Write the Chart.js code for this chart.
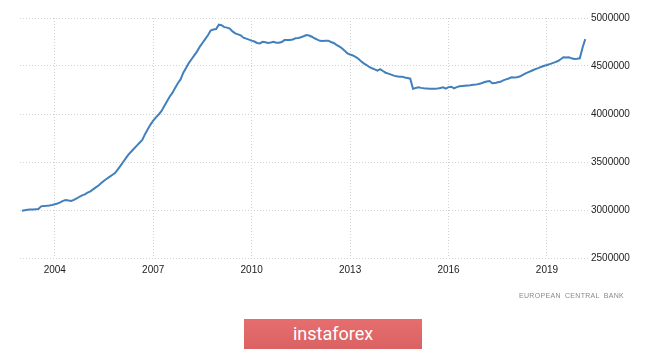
<!DOCTYPE html>
<html>
<head>
<meta charset="utf-8">
<script src="https://cdn.jsdelivr.net/npm/chart.js@4/dist/chart.umd.min.js"></script>
<style>
  html, body { margin: 0; padding: 0; background: #ffffff; }
  #wrap { position: relative; width: 665px; height: 350px; overflow: hidden; }
  #c { position: absolute; left: 0; top: 0; }
  #source {
    position: absolute; right: 41px; top: 292px;
    font-family: "Liberation Sans", Arial, sans-serif; font-size: 7px;
    color: #8a8a8a; letter-spacing: 0.3px; word-spacing: 2px; white-space: nowrap;
  }
  #wm {
    position: absolute; left: 244px; top: 319px; width: 178px; height: 30px;
    background: linear-gradient(#e66e6e, #db6262);
    color: #ffffff; font-family: Roboto, "Open Sans", sans-serif; font-size: 18px;
    text-align: center; line-height: 29px;
  }
</style>
</head>
<body>
<div id="wrap">
  <canvas id="c" width="665" height="350"></canvas>
  <div id="source">EUROPEAN CENTRAL BANK</div>
  <div id="wm">instaforex</div>
</div>
<script>
// Monthly series starting January 2003 (values in thousands)
const startYear = 2003;
const valuesThousands = [
  // 2003
  2993, 2998, 3002, 3005, 3004, 3007, 3010, 3038, 3042, 3044, 3047, 3052,
  // 2004
  3060, 3068, 3080, 3095, 3104, 3100, 3094, 3105, 3120, 3138, 3152, 3163,
  // 2005
  3180, 3195, 3215, 3235, 3255, 3280, 3305, 3325, 3345, 3365, 3385, 3420,
  // 2006
  3460, 3500, 3540, 3580, 3610, 3640, 3670, 3700, 3730, 3790, 3840, 3890,
  // 2007
  3930, 3965, 3995, 4030, 4080, 4130, 4180, 4220, 4270, 4320, 4360, 4430,
  // 2008
  4480, 4530, 4570, 4610, 4650, 4700, 4740, 4780, 4820, 4870, 4880, 4885,
  // 2009
  4930, 4925, 4905, 4900, 4890, 4860, 4840, 4830, 4820, 4795, 4785, 4775,
  // 2010
  4764, 4755, 4740, 4735, 4752, 4748, 4740, 4745, 4752, 4743, 4742, 4750,
  // 2011
  4770, 4772, 4770, 4775, 4789, 4792, 4799, 4810, 4822, 4818, 4805, 4789,
  // 2012
  4775, 4762, 4760, 4762, 4764, 4750, 4740, 4720, 4705, 4685, 4660, 4632,
  // 2013
  4620, 4610, 4595, 4575, 4550, 4528, 4510, 4490, 4476, 4465, 4452, 4468,
  // 2014
  4448, 4430, 4420, 4410, 4400, 4392, 4389, 4389, 4380, 4374, 4368, 4262,
  // 2015
  4270, 4278, 4272, 4268, 4266, 4264, 4264, 4263, 4265, 4270, 4278, 4264,
  // 2016
  4280, 4284, 4268, 4280, 4288, 4292, 4295, 4298, 4300, 4304, 4306, 4312,
  // 2017
  4320, 4330, 4338, 4344, 4320, 4322, 4330, 4335, 4350, 4361, 4370, 4382,
  // 2018
  4380, 4382, 4390, 4405, 4420, 4434, 4445, 4458, 4470, 4480, 4492, 4503,
  // 2019
  4510, 4520, 4530, 4540, 4552, 4570, 4591, 4588, 4591, 4580, 4573, 4575,
  // 2020
  4580, 4690, 4780
];
const xTickYears = [2004, 2007, 2010, 2013, 2016, 2019];
const yTickValues = [2500000, 3000000, 3500000, 4000000, 4500000, 5000000];

const points = valuesThousands.map((v, i) => ({ x: startYear + i / 12, y: v * 1000 }));

const tickFont = { family: '"Liberation Sans", Arial, sans-serif', size: 10 };
const gridColor = '#d2d2d2';

new Chart(document.getElementById('c'), {
  type: 'line',
  data: {
    datasets: [{
      data: points,
      borderColor: '#4180bd',
      borderWidth: 2,
      pointRadius: 0,
      pointHoverRadius: 0,
      tension: 0,
      fill: false
    }]
  },
  options: {
    responsive: false,
    animation: false,
    events: [],
    layout: { padding: { left: 20, top: 18, right: 0, bottom: 0 } },
    plugins: { legend: { display: false }, tooltip: { enabled: false } },
    scales: {
      x: {
        type: 'linear',
        min: 2002.94,
        max: 2020.25,
        afterBuildTicks: (s) => { s.ticks = xTickYears.map(v => ({ value: v })); },
        afterFit: (s) => { s.height = 92; },
        ticks: { font: tickFont, color: '#222', padding: 6, maxRotation: 0, callback: (v) => String(v) },
        grid: { color: gridColor, drawTicks: false, lineWidth: 1 },
        border: { display: false, dash: [1, 2] }
      },
      y: {
        position: 'right',
        min: 2500000,
        max: 5000000,
        afterBuildTicks: (s) => { s.ticks = yTickValues.map(v => ({ value: v })); },
        afterFit: (s) => { s.width = 77; },
        ticks: { font: tickFont, color: '#222', padding: 3, callback: (v) => String(v) },
        grid: { color: gridColor, drawTicks: false, lineWidth: 1 },
        border: { display: false, dash: [1, 2] }
      }
    }
  }
});
</script>
</body>
</html>
